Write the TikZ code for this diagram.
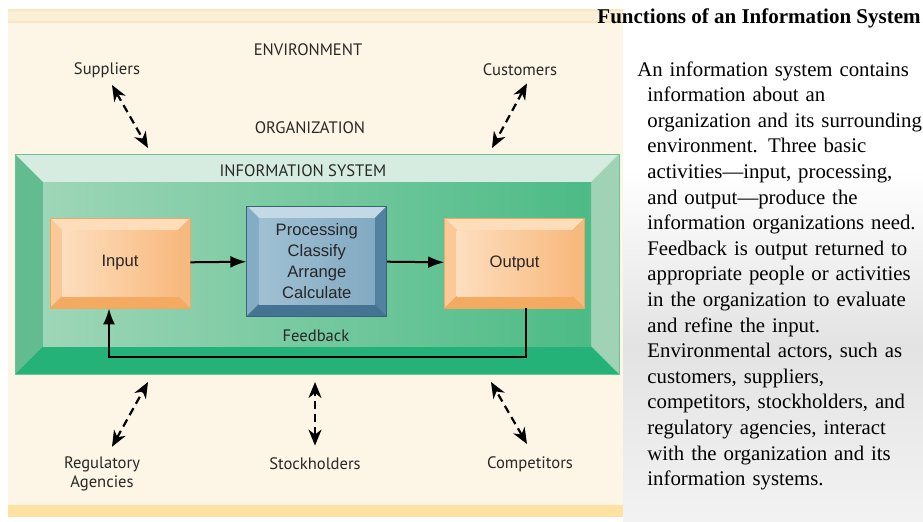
\documentclass[tikz,border=0pt]{standalone}
\usepackage{fontspec}
\setmainfont{Liberation Serif}
\setsansfont{PT Sans}
\newfontfamily\procfont{Liberation Sans}
\usepackage{tikz}
\usetikzlibrary{positioning, arrows.meta, backgrounds}

\definecolor{cream}{RGB}{253,245,229}
\definecolor{creamline}{RGB}{249,231,196}
\definecolor{creamband}{RGB}{255,225,162}
\definecolor{frameedge}{RGB}{104,196,150}
\definecolor{frametop}{RGB}{214,236,224}
\definecolor{frameleft}{RGB}{98,188,143}
\definecolor{frameright}{RGB}{160,211,181}
\definecolor{framebottom}{RGB}{36,178,120}
\definecolor{framefaceL}{RGB}{158,214,184}
\definecolor{framefaceR}{RGB}{76,187,133}
\definecolor{ioedge}{RGB}{242,168,96}
\definecolor{iotop}{RGB}{254,222,186}
\definecolor{ioleft}{RGB}{251,201,152}
\definecolor{ioright}{RGB}{247,186,126}
\definecolor{iobottom}{RGB}{244,170,96}
\definecolor{iofaceL}{RGB}{253,222,190}
\definecolor{iofaceR}{RGB}{249,186,128}
\definecolor{procedge}{RGB}{58,98,124}
\definecolor{proctop}{RGB}{196,217,230}
\definecolor{procleft}{RGB}{132,172,197}
\definecolor{procright}{RGB}{82,130,160}
\definecolor{procbottom}{RGB}{68,116,146}
\definecolor{procfaceL}{RGB}{160,192,211}
\definecolor{procfaceR}{RGB}{130,170,194}
\definecolor{labeltext}{RGB}{40,40,40}

% bevelled face: depth, top, left, right, bottom, face
\newcommand{\bevelfill}[6]{%
  \path (path picture bounding box.north west) coordinate (b1)
        (path picture bounding box.north east) coordinate (b2)
        (path picture bounding box.south east) coordinate (b3)
        (path picture bounding box.south west) coordinate (b4)
        ([shift={(#1,-#1)}]path picture bounding box.north west) coordinate (c1)
        ([shift={(-#1,-#1)}]path picture bounding box.north east) coordinate (c2)
        ([shift={(-#1,#1)}]path picture bounding box.south east) coordinate (c3)
        ([shift={(#1,#1)}]path picture bounding box.south west) coordinate (c4);
  \fill[#2] (b1) -- (b2) -- (c2) -- (c1) -- cycle;
  \fill[#3] (b1) -- (c1) -- (c4) -- (b4) -- cycle;
  \fill[#4] (b2) -- (b3) -- (c3) -- (c2) -- cycle;
  \fill[#5] (b4) -- (c4) -- (c3) -- (b3) -- cycle;
  \path[#6] (c1) rectangle (c3);}

\begin{document}
\begin{tikzpicture}[x=0.5pt, y=-0.5pt,
  env node/.style={font=\sffamily\fontsize{8.3}{9.2}\selectfont, text=labeltext, align=center, inner sep=1pt},
  frame node/.style={minimum width=302pt, minimum height=110pt, inner sep=0, draw=frameedge, line width=0.5pt,
    path picture={\bevelfill{14pt}{frametop}{frameleft}{frameright}{framebottom}{left color=framefaceL, right color=framefaceR}}},
  io node/.style={minimum width=70pt, minimum height=45pt, inner sep=0, draw=ioedge, line width=0.4pt,
    font=\procfont\fontsize{8.3}{10}\selectfont, text=labeltext,
    path picture={\bevelfill{6pt}{iotop}{ioleft}{ioright}{iobottom}{left color=iofaceL, right color=iofaceR}}},
  proc node/.style={minimum width=70pt, minimum height=55pt, inner sep=0, draw=procedge, line width=0.4pt,
    align=center, font=\procfont\fontsize{8.3}{10.5}\selectfont, text=black!85,
    path picture={\bevelfill{6pt}{proctop}{procleft}{procright}{procbottom}{left color=procfaceL, right color=procfaceR}}},
  flow/.style={line width=1pt, -{Latex[length=8pt,width=6pt]}},
  env arrow/.style={line width=1.1pt, dash pattern=on 4pt off 2.5pt,
    {Stealth[length=8pt,width=6.5pt,inset=2.5pt]}-{Stealth[length=8pt,width=6.5pt,inset=2.5pt]}}]

\useasboundingbox (0,0) rectangle (923,521);
\shade[top color=white, bottom color=black!5, middle color=black!11] (623,170) rectangle (923,521);

\fill[cream] (8,10) rectangle (623,517);
\fill[creamline!45!cream] (8,10) rectangle (623,22);
\draw[creamline, line width=0.6pt] (8,10) -- (623,10) (8,22) -- (623,22);
\fill[creamband] (8,505) rectangle (623,517);

\node[env node] (envlabel) at (308,50) {ENVIRONMENT};
\node[env node] (orglabel) at (310,128) {ORGANIZATION};

\node[frame node] (infosys) at (317,264) {};
\node[env node] (islabel) at (303,171) {INFORMATION SYSTEM};

\node[io node] (inp) at (120,263) {Input};
\node[proc node] (proc) [right=28pt of inp, yshift=1pt] {Processing\\Classify\\Arrange\\Calculate};
\node[io node] (out) [right=28.5pt of proc, yshift=-1pt] {Output};
\node[env node] (fblabel) at (316,336) {Feedback};

\path[flow]
(inp) edge (proc)
(proc) edge (out)
;
\coordinate (fb) at (316,357);
\draw[flow] ([xshift=5.75pt]out.south) |- (fb) -| ([xshift=-5.5pt]inp.south);

\node[env node] (sup) at (107,70) {Suppliers};
\node[env node] (cus) at (520,70) {Customers};
\node[env node] (reg) at (102,474) {Regulatory\\Agencies};
\node[env node] (sto) at (315,464) {Stockholders};
\node[env node] (com) at (530,464) {Competitors};

\coordinate (sup in) at (148,148);
\coordinate (cus in) at (492,148);
\coordinate (reg in) at (148,382);
\coordinate (sto in) at (315,382);
\coordinate (com in) at (491,382);

\draw[env arrow] ([shift={(2.5pt,-2.5pt)}]sup.south) -- (sup in);
\draw[env arrow] ([shift={(3.5pt,-2.5pt)}]cus.south) -- (cus in);
\draw[env arrow] ([shift={(5pt,4pt)}]reg.north) -- (reg in);
\draw[env arrow] ([yshift=5pt]sto.north) -- (sto in);
\draw[env arrow] ([shift={(-1.5pt,5pt)}]com.north) -- (com in);

\node[anchor=base east, inner sep=0, font=\bfseries\fontsize{10.5}{12}\selectfont] (title) at (921,23)
  {Functions of an Information System};
\node[anchor=north west, text width=150pt, align=left, inner sep=0, font=\fontsize{10.4}{12.8}\selectfont] (desc) at (647,61)
  {\hspace*{-5pt}An information system contains\\
   information about an\\
   organization and its surrounding\\
   environment. Three basic\\
   activities---input, processing,\\
   and output---produce the\\
   information organizations need.\\
   Feedback is output returned to\\
   appropriate people or activities\\
   in the organization to evaluate\\
   and refine the input.\\
   Environmental actors, such as\\
   customers, suppliers,\\
   competitors, stockholders, and\\
   regulatory agencies, interact\\
   with the organization and its\\
   information systems.};

\end{tikzpicture}
\end{document}
